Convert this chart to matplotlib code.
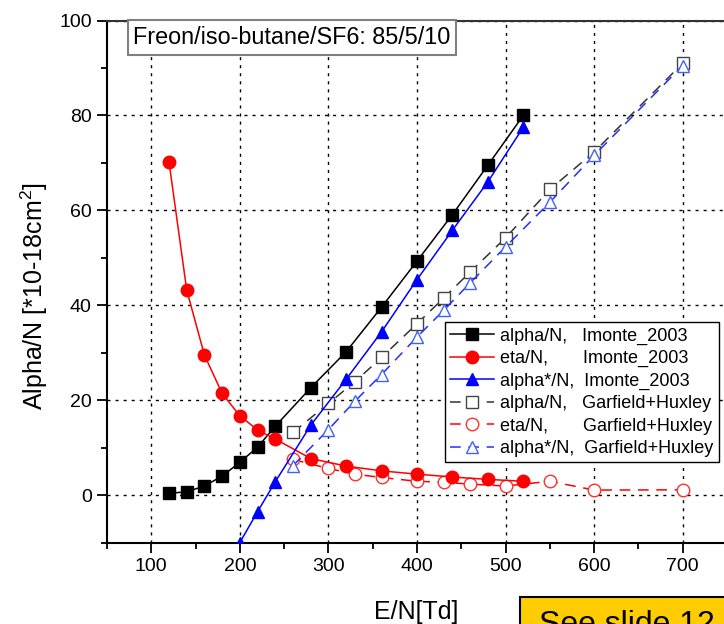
import matplotlib
matplotlib.use("Agg")
import matplotlib.pyplot as plt
from matplotlib.ticker import MultipleLocator
from matplotlib.patches import Rectangle

plt.rcParams['font.family'] = ['Liberation Sans', 'DejaVu Sans']
plt.rcParams['mathtext.default'] = 'regular'

# ---- data ----
x_imonte = [120, 140, 160, 180, 200, 220, 240, 280, 320, 360, 400, 440, 480, 520]
alpha_imonte = [0.35, 0.7, 1.9, 4.0, 6.9, 10.1, 14.5, 22.6, 30.2, 39.6, 49.3, 59.1, 69.5, 80.0]
eta_imonte = [70.2, 43.2, 29.5, 21.4, 16.7, 13.7, 11.8, 7.7, 6.1, 5.1, 4.4, 3.8, 3.3, 2.9]
x_alphastar_imonte = [200, 220, 240, 280, 320, 360, 400, 440, 480, 520]
alphastar_imonte = [-10.0, -3.5, 2.8, 14.7, 24.4, 34.4, 45.4, 55.8, 66.0, 77.5]

x_garf = [260, 300, 330, 360, 400, 430, 460, 500, 550, 600, 700]
alpha_garf = [13.2, 19.3, 23.9, 29.0, 36.1, 41.5, 47.0, 54.2, 64.4, 72.3, 91.0]
eta_garf = [7.5, 5.6, 4.4, 3.7, 2.9, 2.7, 2.3, 1.9, 2.9, 1.05, 1.1]
alphastar_garf = [6.2, 13.8, 19.8, 25.4, 33.3, 38.9, 44.7, 52.3, 61.7, 71.6, 90.5]

labels = ["alpha/N,   Imonte_2003",
          "eta/N,       Imonte_2003",
          "alpha*/N,  Imonte_2003",
          "alpha/N,   Garfield+Huxley",
          "eta/N,       Garfield+Huxley",
          "alpha*/N,  Garfield+Huxley"]

xticks = [100, 200, 300, 400, 500, 600, 700]
yticks = [0, 20, 40, 60, 80, 100]

W, H = 724, 624
fig = plt.figure(figsize=(W / 100, H / 100), dpi=100)
l, r, b, t = 107, 727, 542.5, 20.5
ax = fig.add_axes([l / W, 1 - b / H, (r - l) / W, (b - t) / H])

ax.set_xlim(50, 750)
ax.set_ylim(-10, 100)
ax.set_xticks(xticks)
ax.set_yticks(yticks)
ax.xaxis.set_minor_locator(MultipleLocator(50))
ax.yaxis.set_minor_locator(MultipleLocator(10))
ax.tick_params(axis='both', which='major', direction='out', length=7, width=1.3,
               labelsize=14, pad=4)
ax.tick_params(axis='both', which='minor', direction='out', length=4, width=1.3)
for s in ax.spines.values():
    s.set_linewidth(1.5)
ax.spines['top'].set_color('#333333')

ax.grid(True, which='major', color='black', linestyle=(0, (2.2, 3.6)), linewidth=1.0)
ax.set_axisbelow(True)

ax.plot(x_imonte, alpha_imonte, '-', color='black', lw=1.1, marker='s', ms=8,
        mfc='black', mec='black', label=labels[0], zorder=4)
ax.plot(x_imonte, eta_imonte, '-', color='red', lw=1.1, marker='o', ms=9,
        mfc='red', mec='red', label=labels[1], zorder=4)
ax.plot(x_alphastar_imonte, alphastar_imonte, '-', color='blue', lw=1.1, marker='^',
        ms=9, mfc='blue', mec='blue', label=labels[2], zorder=4, clip_on=True)
dash = (0, (7, 5))
ax.plot(x_garf, alpha_garf, linestyle=dash, color='#333333', lw=1.1, marker='s', ms=8,
        mfc='white', mec='#444444', mew=1.0, label=labels[3], zorder=3)
ax.plot(x_garf, eta_garf, linestyle=dash, color='red', lw=1.1, marker='o', ms=9,
        mfc='white', mec='#ff3030', mew=1.0, label=labels[4], zorder=3)
ax.plot(x_garf, alphastar_garf, linestyle=dash, color='#2030ff', lw=1.1, marker='^', ms=9,
        mfc='white', mec='#4060ff', mew=1.0, label=labels[5], zorder=3)

leg = ax.legend(loc='upper left', bbox_to_anchor=((445 - l) / (r - l), (b - 322) / (b - t)),
                borderaxespad=0, fontsize=13, frameon=True, fancybox=False,
                edgecolor='black', framealpha=1, handlelength=2.4, handletextpad=0.35,
                labelspacing=0.3, borderpad=0.3)
leg.get_frame().set_linewidth(1.0)

fig.text(292 / W, 1 - 37.5 / H, "Freon/iso-butane/SF6: 85/5/10", fontsize=16.8,
         ha='center', va='center',
         bbox=dict(boxstyle='square,pad=0.24', fc='white', ec='#808080', lw=1.5))

fig.text(416 / W, 1 - 612 / H, "E/N[Td]", fontsize=18, ha='center', va='center')
fig.text(34 / W, 1 - 296.5 / H, "Alpha/N [*10-18cm$^2$]", fontsize=18, rotation=90,
         ha='center', va='center')

fig.patches.append(Rectangle((520 / W, -0.05), 0.3, 1 - 597 / H + 0.05,
                             transform=fig.transFigure, fc='#FFCC00', ec='black',
                             lw=1.5, zorder=5))
fig.text(539 / W, 1 - 610 / H, "See slide 12", fontsize=23, ha='left', va='top',
         zorder=6)

fig.savefig("out.png", dpi=100)
